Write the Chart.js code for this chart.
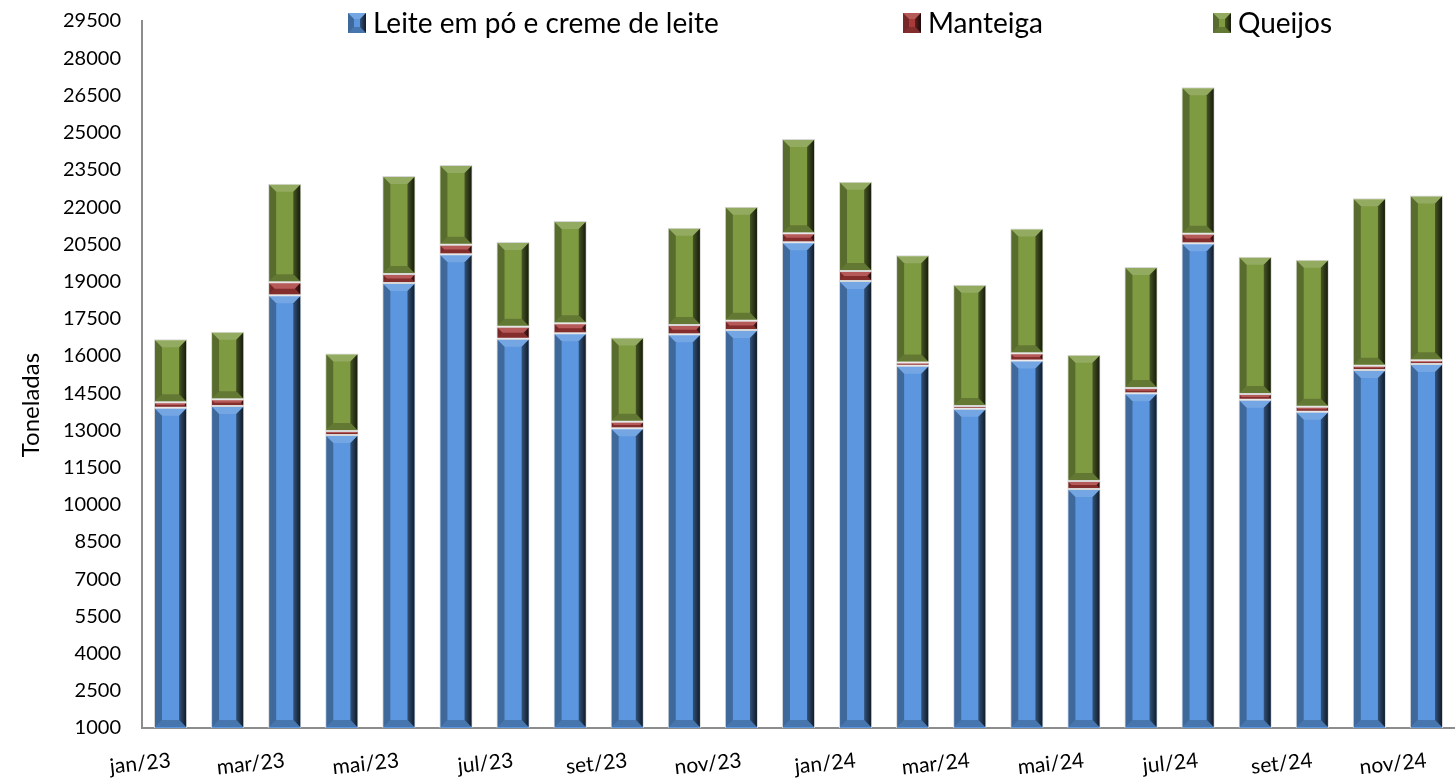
<!DOCTYPE html>
<html>
<head>
<meta charset="utf-8">
<script src="https://cdn.jsdelivr.net/npm/chart.js@4/dist/chart.umd.min.js"></script>
<style>
  html, body { margin: 0; padding: 0; background: #ffffff; }
  #wrap { width: 1455px; height: 778px; position: relative; }
</style>
</head>
<body>
<div id="wrap"><canvas id="c" width="1455" height="778"></canvas></div>
<script>
const categories = ["jan/23","fev/23","mar/23","abr/23","mai/23","jun/23","jul/23","ago/23","set/23","out/23","nov/23","dez/23",
                    "jan/24","fev/24","mar/24","abr/24","mai/24","jun/24","jul/24","ago/24","set/24","out/24","nov/24"];
const leite    = [13910,13980,18440,12810,18940,20100,16690,16910,13080,16870,17040,20580,19020,15600,13870,15810,10630,14490,20540,14230,13750,15430,15670];
const manteiga = [220,270,525,160,365,385,485,405,265,375,375,365,405,135,110,300,325,215,385,230,200,175,150];
const queijos  = [2540,2725,3975,3130,3950,3210,3415,4125,3400,3920,4595,3800,3600,4325,4890,5025,5090,4880,5900,5535,5925,6745,6650];
const seriesNames = ["Leite em pó e creme de leite","Manteiga","Queijos"];
const yTitle = "Toneladas";
const yMin = 1000, yMax = 29500, yStep = 1500;

const colors = ["#5B96DF", "#A93A3A", "#7F9B42"];
const FONT = "Lato, 'Open Sans', sans-serif";

function drawBevel(ctx, L, T, R, B, b) {
  const h = B - T, w = R - L;
  if (h <= 0 || w <= 0) return;
  b = Math.min(b, h / 2, w / 3);
  ctx.fillStyle = "rgba(255,255,255,0.16)";
  ctx.beginPath(); ctx.moveTo(L, T); ctx.lineTo(R, T); ctx.lineTo(R - b, T + b); ctx.lineTo(L + b, T + b); ctx.closePath(); ctx.fill();
  ctx.fillStyle = "rgba(0,0,0,0.22)";
  ctx.beginPath(); ctx.moveTo(L, B); ctx.lineTo(R, B); ctx.lineTo(R - b, B - b); ctx.lineTo(L + b, B - b); ctx.closePath(); ctx.fill();
  ctx.fillStyle = "rgba(0,0,0,0.30)";
  ctx.beginPath(); ctx.moveTo(L, T); ctx.lineTo(L + b, T + b); ctx.lineTo(L + b, B - b); ctx.lineTo(L, B); ctx.closePath(); ctx.fill();
  const g = ctx.createLinearGradient(R - b, 0, R, 0);
  g.addColorStop(0, "rgba(0,0,0,0.45)");
  g.addColorStop(1, "rgba(0,0,0,0.82)");
  ctx.fillStyle = g;
  ctx.beginPath(); ctx.moveTo(R, T); ctx.lineTo(R - b, T + b); ctx.lineTo(R - b, B - b); ctx.lineTo(R, B); ctx.closePath(); ctx.fill();
}

const bevelPlugin = {
  id: "bevel",
  afterDatasetsDraw(chart) {
    const ctx = chart.ctx, ca = chart.chartArea;
    ctx.save();
    ctx.beginPath(); ctx.rect(ca.left, ca.top, ca.right - ca.left, ca.bottom - ca.top); ctx.clip();
    chart.data.datasets.forEach((ds, di) => {
      const meta = chart.getDatasetMeta(di);
      meta.data.forEach(el => {
        const p = el.getProps(["x","y","base","width"], true);
        const L = p.x - p.width / 2 + 1, R = p.x + p.width / 2 - 1;
        let T = Math.min(p.y, p.base) + 1, B = Math.max(p.y, p.base) - 1;
        T = Math.max(T, ca.top); B = Math.min(B, ca.bottom - 1);
        drawBevel(ctx, L, T, R, B, 7);
      });
    });
    ctx.restore();
  }
};

const legendPlugin = {
  id: "customLegend",
  afterDraw(chart) {
    const ctx = chart.ctx;
    const boxX = [348, 903, 1213];
    const cy = 23;
    ctx.save();
    ctx.font = "28px " + FONT;
    ctx.textBaseline = "middle";
    ctx.textAlign = "left";
    seriesNames.forEach((name, i) => {
      const x = boxX[i];
      ctx.fillStyle = colors[i];
      ctx.fillRect(x, cy - 10, 18, 20);
      drawBevel(ctx, x, cy - 10, x + 18, cy + 10, 6);
      ctx.fillStyle = "#000000";
      ctx.fillText(name, x + 25, cy + 1);
    });
    // y-axis title
    ctx.translate(31, 405);
    ctx.rotate(-Math.PI / 2);
    ctx.font = "24px " + FONT;
    ctx.textAlign = "center";
    ctx.fillText(yTitle, 0, 0);
    ctx.restore();
  }
};

const datasets = [leite, manteiga, queijos].map((d, i) => ({
  label: seriesNames[i],
  data: d,
  backgroundColor: colors[i],
  borderColor: "rgba(215,215,215,1)",
  borderWidth: 1,
  borderSkipped: false,
  categoryPercentage: 1.0,
  barPercentage: 0.58
}));

new Chart(document.getElementById("c"), {
  type: "bar",
  data: { labels: categories, datasets },
  plugins: [bevelPlugin, legendPlugin],
  options: {
    responsive: false,
    animation: false,
    devicePixelRatio: 1,
    layout: { padding: { top: 21, right: 0, left: 0, bottom: 0 } },
    plugins: { legend: { display: false }, tooltip: { enabled: false } },
    scales: {
      x: {
        stacked: true,
        grid: { display: false, drawTicks: false },
        border: { display: true, color: "#8c8c8c", width: 2 },
        ticks: {
          autoSkip: false,
          minRotation: 6, maxRotation: 6,
          padding: 20,
          color: "#000000",
          font: { family: FONT, size: 21 },
          callback: function(v, i) { return i % 2 === 0 ? categories[i] : ""; }
        },
        afterFit(scale) { scale.height = 50; scale.paddingLeft = 0; scale.paddingRight = 0; }
      },
      y: {
        stacked: true,
        min: yMin, max: yMax,
        grid: { display: false, drawTicks: false },
        border: { display: true, color: "#8c8c8c", width: 2 },
        ticks: {
          stepSize: yStep,
          padding: 21,
          color: "#000000",
          font: { family: FONT, size: 20 },
          callback: v => String(v)
        },
        title: { display: false },
        afterFit(scale) { scale.width = 142; scale.paddingTop = 0; scale.paddingBottom = 0; }
      }
    }
  }
});
</script>
</body>
</html>
